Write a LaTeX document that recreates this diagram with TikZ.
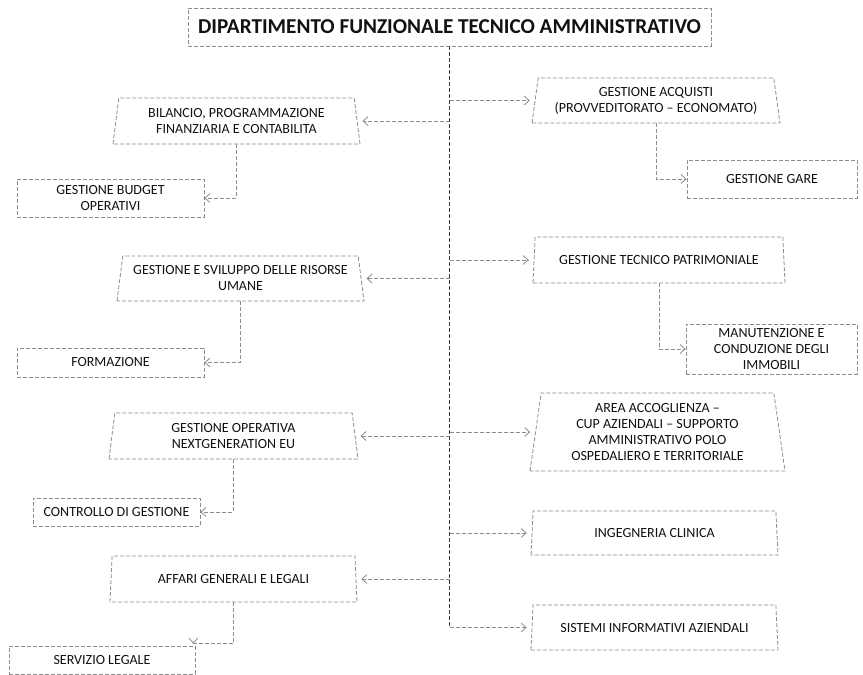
\documentclass[tikz,border=0pt]{standalone}
\usepackage{fontspec}
\setmainfont{Carlito}
\usetikzlibrary{shapes.geometric,arrows.meta,calc}
\definecolor{boxgray}{HTML}{8C8C8C}
\definecolor{spinec}{HTML}{3A3A3A}
\definecolor{txt}{HTML}{111111}
\begin{document}
\begin{tikzpicture}[x=1pt,y=-1pt,
  every node/.style={text=txt, font=\fontsize{14}{16}\selectfont},
  trap/.style={trapezium, trapezium stretches body, trapezium left angle=77, trapezium right angle=77,
    draw=boxgray, dash pattern=on 4pt off 2pt, line width=0.8pt, align=center, inner sep=0pt},
  rbox/.style={rectangle, draw=boxgray, dash pattern=on 4pt off 2pt, line width=0.8pt, align=center, inner sep=0pt},
  conn/.style={draw=boxgray, dash pattern=on 4pt off 2pt, line width=0.8pt, -{Straight Barb[length=5pt,width=9pt]}},
  branch/.style={conn, shorten >=5pt},
  spine/.style={draw=spinec, dash pattern=on 4pt off 2pt, line width=0.8pt}]
\useasboundingbox (0,0) rectangle (863,675);

\node[rbox, minimum width=523pt, minimum height=38pt, font=\bfseries\fontsize{21.2}{24}\selectfont] (title) at (449.5,27) {DIPARTIMENTO FUNZIONALE TECNICO AMMINISTRATIVO};

\node[trap, minimum width=247pt, minimum height=46pt] (bil) at (236.5,121) {BILANCIO, PROGRAMMAZIONE\\FINANZIARIA E CONTABILITA};
\node[trap, minimum width=248pt, minimum height=45pt] (acq) at (656,100.5) {GESTIONE ACQUISTI\\(PROVVEDITORATO – ECONOMATO)};
\node[rbox, minimum width=170pt, minimum height=38pt] (gare) at (772,179) {GESTIONE GARE};
\node[rbox, minimum width=187pt, minimum height=38pt] (bud) at (110.5,198) {GESTIONE BUDGET\\OPERATIVI};
\node[trap, minimum width=247pt, minimum height=45pt] (hr) at (240.5,278.5) {GESTIONE E SVILUPPO DELLE RISORSE\\UMANE};
\node[trap, minimum width=252pt, minimum height=46pt] (tec) at (659,260) {GESTIONE TECNICO PATRIMONIALE};
\node[rbox, minimum width=187pt, minimum height=29pt] (form) at (110.5,362.5) {FORMAZIONE};
\node[rbox, minimum width=171pt, minimum height=50pt] (man) at (771.5,349) {MANUTENZIONE E\\CONDUZIONE DEGLI\\IMMOBILI};
\node[trap, minimum width=249pt, minimum height=46pt] (op) at (233.5,436) {GESTIONE OPERATIVA\\NEXTGENERATION EU};
\node[trap, trapezium left angle=79, trapezium right angle=79, minimum width=255pt, minimum height=78pt] (area) at (657.5,432) {AREA ACCOGLIENZA –\\CUP AZIENDALI – SUPPORTO\\AMMINISTRATIVO POLO\\OSPEDALIERO E TERRITORIALE};
\node[rbox, minimum width=167pt, minimum height=28pt] (ctrl) at (116.5,512) {CONTROLLO DI GESTIONE};
\node[trap, minimum width=247pt, minimum height=44pt] (ing) at (654.5,533) {INGEGNERIA CLINICA};
\node[trap, minimum width=247pt, minimum height=46pt] (aff) at (233.5,579) {AFFARI GENERALI E LEGALI};
\node[trap, minimum width=247pt, minimum height=45pt] (sis) at (654.5,627.5) {SISTEMI INFORMATIVI AZIENDALI};
\node[rbox, minimum width=186pt, minimum height=28pt] (serv) at (102,660) {SERVIZIO LEGALE};

% branches from the spine
\draw[branch] (title.south |- acq.west) -- (acq.west);
\draw[branch] (title.south |- bil.east) -- (bil.east);
\draw[branch] (title.south |- tec.west) -- (tec.west);
\draw[branch] (title.south |- hr.east) -- (hr.east);
\draw[branch] (title.south |- area.west) -- (area.west);
\draw[branch] (title.south |- op.east) -- (op.east);
\draw[branch] (title.south |- ing.west) -- (ing.west);
\draw[branch] (title.south |- aff.east) -- (aff.east);
\draw[branch] (title.south |- sis.west) -- (sis.west);
\draw[spine] (title.south) -- (title.south |- sis.west);

% sub connectors
\draw[conn] (bil.south) |- (bud.east);
\draw[conn] (acq.south) |- (gare.west);
\draw[conn] (hr.south) |- (form.east);
\draw[conn] (tec.south) |- (man.west);
\draw[conn] (op.south) |- (ctrl.east);
\coordinate (servin) at ([xshift=-2pt,yshift=2pt]serv.north east);
\draw[conn,-] (aff.south) |- (servin);
\draw[conn] ([yshift=2pt]servin) -- (servin);
\end{tikzpicture}
\end{document}
